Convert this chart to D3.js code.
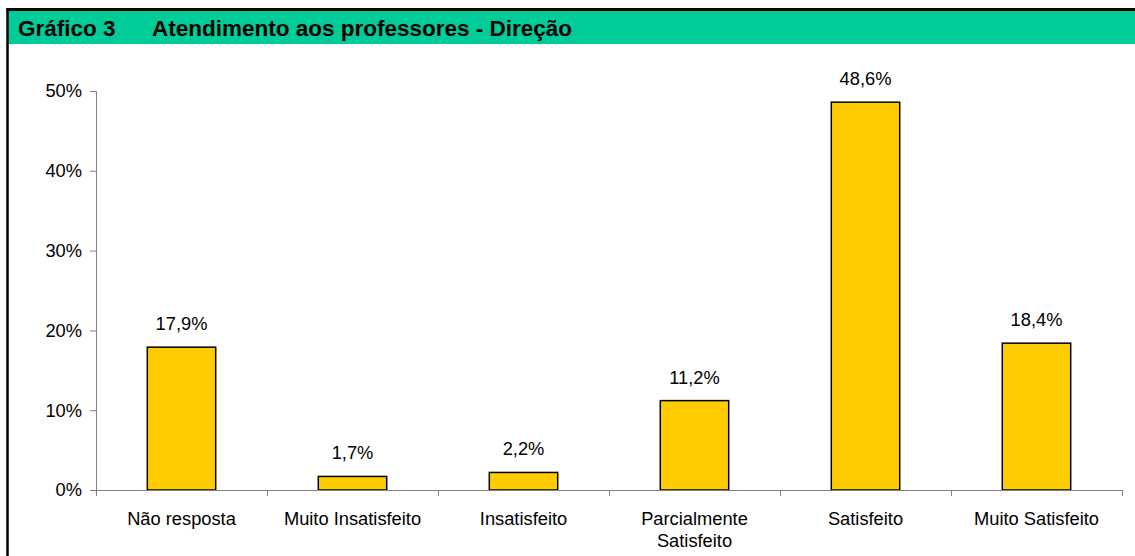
<!DOCTYPE html>
<html><head><meta charset="utf-8">
<script src="https://cdn.jsdelivr.net/npm/d3@7/dist/d3.min.js"></script>
<style>body{margin:0;background:#fff;}svg{display:block;font-family:"Liberation Sans",Arial,sans-serif;}</style>
</head><body><svg id="c" width="1135" height="556"></svg>
<script>
const categories = [["Não resposta"],["Muito Insatisfeito"],["Insatisfeito"],["Parcialmente","Satisfeito"],["Satisfeito"],["Muito Satisfeito"]];
const values = [17.9, 1.7, 2.2, 11.2, 48.6, 18.4];
const yTicks = [0,10,20,30,40,50];
const titleNum = "Gráfico 3";
const titleText = "Atendimento aos professores - Direção";

const FS = 18.3;
const svg = d3.select("#c");
// frame
svg.append("rect").attr("x",0).attr("y",0).attr("width",1135).attr("height",556).attr("fill","#fff");
svg.append("rect").attr("x",8).attr("y",11).attr("width",1127).attr("height",33).attr("fill","#00CC99");
svg.append("line").attr("x1",6.5).attr("x2",1135).attr("y1",9.5).attr("y2",9.5).attr("stroke","#000").attr("stroke-width",3);
svg.append("line").attr("x1",7.5).attr("x2",7.5).attr("y1",8).attr("y2",556).attr("stroke","#000").attr("stroke-width",2.5);
svg.append("text").attr("x",18).attr("y",36).attr("font-size",22.5).attr("font-weight","bold").text(titleNum);
svg.append("text").attr("x",152).attr("y",36).attr("font-size",22.5).attr("font-weight","bold").text(titleText);

const x0=96, x1=1122, yb=490, yt=91;
const x = d3.scaleBand().domain(d3.range(values.length)).range([x0,x1]).paddingInner(0.6).paddingOuter(0.3);
const y = d3.scaleLinear().domain([0,50]).range([yb,yt]);

// bars
svg.selectAll("rect.bar").data(values).enter().append("rect").attr("class","bar")
  .attr("x",(d,i)=>x(i)).attr("width",x.bandwidth())
  .attr("y",d=>y(d)).attr("height",d=>yb-y(d))
  .attr("fill","#FFCC00").attr("stroke","#000").attr("stroke-width",1.5);

// y axis
const ya = svg.append("g").attr("transform",`translate(${x0},0)`)
  .call(d3.axisLeft(y).tickValues(yTicks).tickFormat(d=>d+"%").tickSize(6).tickPadding(8));
ya.select(".domain").attr("stroke","#808080");
ya.selectAll(".tick line").attr("stroke","#808080");
ya.selectAll("text").attr("font-size",FS).attr("fill","#000").attr("font-family","Liberation Sans, Arial, sans-serif");

// x axis line & ticks
const step = (x1-x0)/values.length;
const xb = svg.append("g");
xb.append("line").attr("x1",x0).attr("x2",x1).attr("y1",yb+0.5).attr("y2",yb+0.5).attr("stroke","#808080");
d3.range(values.length+1).forEach(i=>{
  xb.append("line").attr("x1",x0+i*step+0.5).attr("x2",x0+i*step+0.5).attr("y1",yb).attr("y2",yb+6).attr("stroke","#808080");
});

// category labels
categories.forEach((lines,i)=>{
  const t = svg.append("text").attr("text-anchor","middle").attr("font-size",FS).attr("y",525);
  lines.forEach((l,j)=>t.append("tspan").attr("x",x(i)+x.bandwidth()/2).attr("dy",j?22:0).text(l));
});

// value labels
svg.selectAll("text.val").data(values).enter().append("text").attr("class","val")
  .attr("text-anchor","middle").attr("font-size",FS)
  .attr("x",(d,i)=>x(i)+x.bandwidth()/2).attr("y",d=>y(d)-17)
  .text(d=>d.toFixed(1).replace(".",",")+"%");
</script></body></html>
